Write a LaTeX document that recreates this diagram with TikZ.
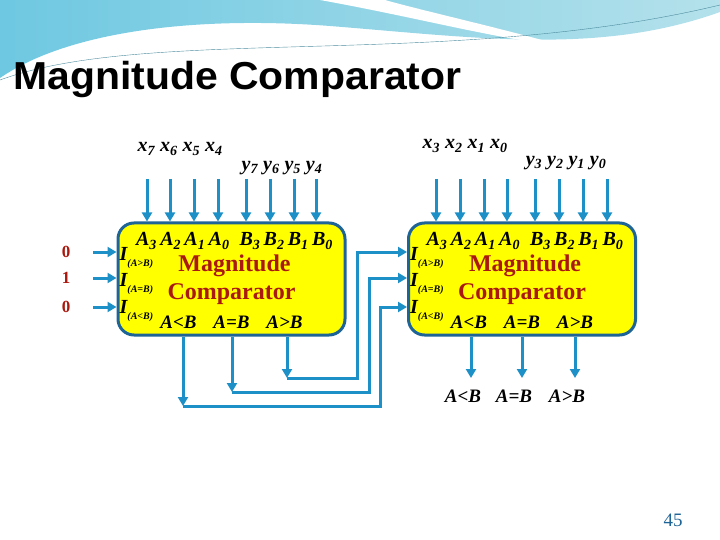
\documentclass[tikz,border=0pt]{standalone}
\usepackage{fontspec}
\setmainfont{Liberation Serif}
\setsansfont{Liberation Sans}
\usetikzlibrary{arrows.meta, shapes}
\definecolor{wire}{RGB}{30,144,200}
\definecolor{edge}{RGB}{30,100,150}
\definecolor{boxfill}{RGB}{255,255,0}
\definecolor{dred}{RGB}{170,25,15}
\definecolor{sky}{RGB}{110,200,225}
\definecolor{pale}{RGB}{180,225,235}
\newcommand{\bi}[2]{{\bfseries\itshape #1\textsubscript{#2}}}
\newcommand{\ilab}[1]{{\bfseries\itshape\fontsize{20}{20}\selectfont I\raisebox{-0.6ex}{\fontsize{10}{10}\selectfont(#1)}}}
\tikzset{sig/.style={wire, line width=3pt, -{Triangle[length=9pt,width=10pt]}},
         line/.style={wire, line width=3pt},
         comp/.style={draw=edge, line width=3pt, fill=boxfill, rounded corners=16pt,
                      minimum width=227pt, minimum height=112pt},
         pinlab/.style={font=\fontsize{20}{20}\selectfont, inner sep=0pt},
         outlab/.style={font=\fontsize{19}{19}\selectfont\bfseries\itshape, inner sep=0pt},
         title/.style={font=\fontsize{24}{24}\selectfont\bfseries, text=dred, inner sep=0pt}}
\begin{document}
\begin{tikzpicture}[x=1pt, y=-1pt]
	\useasboundingbox (0,0) rectangle (720,540);

	% header band
	\shade[left color=sky, right color=pale] (0,0) -- (720,0) -- (720,12)
		.. controls (600,55) and (480,38) .. (330,26)
		.. controls (200,16) and (70,30) .. (0,78) -- cycle;
	\fill[white] (320,0) .. controls (420,18) and (500,40) .. (560,45)
		.. controls (500,28) and (420,10) .. (385,0) -- cycle;
	\draw[sky!70!black, thin] (0,80) .. controls (150,25) and (450,70) .. (720,5);
	\node[anchor=west, inner sep=0pt, font=\sffamily\bfseries\fontsize{39}{39}\selectfont, xscale=1.05] (ttl) at (13,80) {Magnitude Comparator};

	% the two comparators
	\node[comp] (L) at (231.5,279) {};
	\node[comp] (R) at (522,279) {};

	% data inputs
	\foreach \x in {147,170,194,218,246,270,294,316} {
		\coordinate (tl) at (\x,179);
		\draw[sig] (tl) -- (tl |- L.north);
	}
	\foreach \x in {436,460,484,507,535,559,583,607} {
		\coordinate (tr) at (\x,179);
		\draw[sig] (tr) -- (tr |- R.north);
	}
	\node[pinlab] (xhi) at (180,149) {\bi{x}{7} \bi{x}{6} \bi{x}{5} \bi{x}{4}};
	\node[pinlab] (yhi) at (282,168) {\bi{y}{7} \bi{y}{6} \bi{y}{5} \bi{y}{4}};
	\node[pinlab] (xlo) at (465,146) {\bi{x}{3} \bi{x}{2} \bi{x}{1} \bi{x}{0}};
	\node[pinlab] (ylo) at (566,163) {\bi{y}{3} \bi{y}{2} \bi{y}{1} \bi{y}{0}};

	% inside the boxes
	\foreach \b/\c in {L/231.5, R/522} {
		\node[pinlab] (\b top) at (\c+3,241) {\bi{A}{3}\,\bi{A}{2}\,\bi{A}{1}\,\bi{A}{0}\ \ \bi{B}{3}\,\bi{B}{2}\,\bi{B}{1}\,\bi{B}{0}};
		\node[title] (\b mag) at (\c+3,266) {Magnitude};
		\node[title] (\b cmp) at (\c,294) {Comparator};
		\node[anchor=west, inner sep=0pt] (\b gt) at (\c-112,258) {\ilab{A>B}};
		\node[anchor=west, inner sep=0pt] (\b eq) at (\c-112,284) {\ilab{A=B}};
		\node[anchor=west, inner sep=0pt] (\b lt) at (\c-112,311) {\ilab{A<B}};
		\node[outlab] (\b olt) at (\c-53,322) {A<B};
		\node[outlab] (\b oeq) at (\c,322) {A=B};
		\node[outlab] (\b ogt) at (\c+53,322) {A>B};
	}

	% cascade inputs of the first stage
	\foreach \y/\v/\n in {252/0/a, 278/1/b, 307/0/c} {
		\node[font=\bfseries\fontsize{17}{17}\selectfont, text=dred] (in\n) at (66,\y) {\v};
		\coordinate (s\n) at (93,\y);
		\draw[sig] (s\n) -- (s\n -| L.west);
	}

	% outputs of the first stage fed into the second
	\coordinate (gd) at (287,378);
	\coordinate (ed) at (232,392);
	\coordinate (ld) at (183,406);
	\draw[sig] (gd |- L.south) -- (gd);
	\draw[sig] (ed |- L.south) -- (ed);
	\draw[sig] (ld |- L.south) -- (ld);
	\draw[sig] (gd) -- (357,378) -- (357,252) -- (357,252 -| R.west);
	\draw[sig] (ed) -- (369,392) -- (369,278) -- (369,278 -| R.west);
	\draw[sig] (ld) -- (380,406) -- (380,307) -- (380,307 -| R.west);

	% final outputs
	\foreach \x/\t/\n in {471/A<B/1, 522/A=B/2, 575/A>B/3} {
		\coordinate (o\n) at (\x,378);
		\draw[sig] (o\n |- R.south) -- (o\n);
		\node[outlab] (f\n) at (\x-8,396) {\t};
	}

	\node[font=\fontsize{19}{19}\selectfont, text=edge] (pg) at (673,520) {45};
\end{tikzpicture}
\end{document}
